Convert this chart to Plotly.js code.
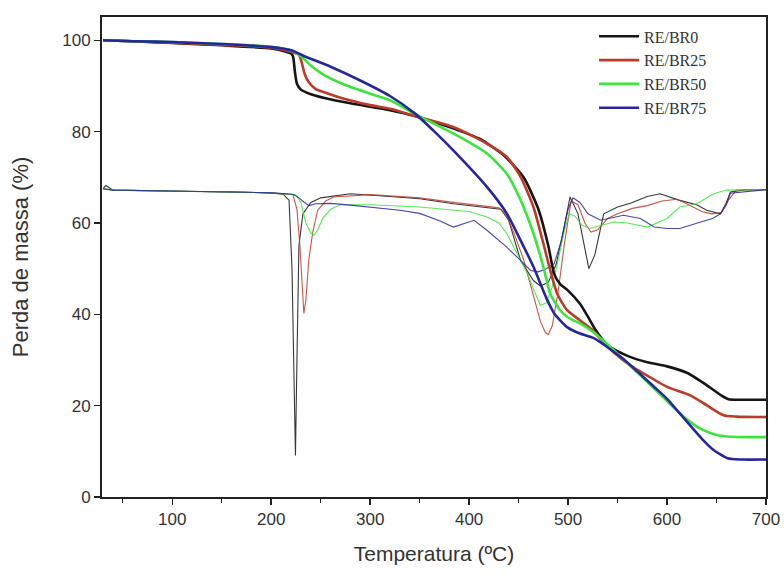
<!DOCTYPE html>
<html>
<head>
<meta charset="utf-8">
<script src="https://cdn.plot.ly/plotly-3.0.1.min.js"></script>
<style>html,body{margin:0;padding:0;background:#fff}#chart{width:784px;height:576px}</style>
</head>
<body>
<div id="chart"></div>
<script>
// ---- TGA curves (mass loss, %) ----
const seriesNames = ["RE/BR0", "RE/BR25", "RE/BR50", "RE/BR75"];
const seriesColors = ["#151515", "#bd3a28", "#3ce43c", "#27279c"];

const tgaBR0_x = [30, 60, 100, 150, 200, 215, 220, 222, 224, 226, 230, 240, 255, 280, 320, 344, 380, 410, 435, 455, 470, 480, 486, 492, 500, 512, 520, 528, 540, 560, 580, 600, 620, 640, 655, 662, 680, 700];
const tgaBR0_y = [100, 99.8, 99.4, 98.9, 98.2, 97.5, 97.1, 96.5, 93, 90.5, 89.2, 88.2, 87.3, 86.2, 84.7, 83.5, 81, 78.5, 74.8, 70, 63, 55, 48.8, 46.6, 45.2, 42.3, 39.5, 36.5, 33.2, 30.9, 29.5, 28.6, 27.2, 24.5, 22.2, 21.4, 21.3, 21.3];

const tgaBR25_x = [30, 60, 100, 150, 200, 220, 228, 231, 234, 238, 245, 255, 270, 300, 320, 344, 384, 418, 438, 452, 465, 475, 482, 489, 499, 512, 525, 532, 546, 565, 580, 600, 623, 640, 657, 670, 700];
const tgaBR25_y = [100, 99.8, 99.5, 99.0, 98.4, 97.5, 96.8, 95, 92.5, 90.8, 89.3, 88.5, 87.4, 85.8, 85.0, 83.5, 81, 77.4, 74.5, 70.1, 63.5, 55.5, 49.6, 44.5, 40.9, 38.7, 36.5, 34.8, 31.7, 28.5, 26.6, 24.1, 22.3, 20.1, 17.9, 17.6, 17.5];

const tgaBR50_x = [30, 60, 100, 150, 200, 220, 230, 240, 255, 275, 300, 320, 344, 384, 418, 438, 452, 465, 475, 482, 492, 500, 512, 525, 540, 560, 580, 600, 620, 635, 650, 665, 700];
const tgaBR50_y = [100, 99.8, 99.6, 99.2, 98.6, 97.8, 96.5, 94.5, 92.2, 90.2, 88.3, 86.9, 84, 79.6, 75.2, 70.8, 65, 57.7, 50.4, 44.5, 40.9, 39.3, 38, 36.2, 33.4, 29.3, 25.2, 21, 17, 14.8, 13.6, 13.2, 13.1];

const tgaBR75_x = [30, 60, 100, 150, 200, 220, 236, 260, 290, 320, 345, 365, 384, 418, 438, 452, 465, 479, 486, 499, 512, 526, 553, 570, 587, 600, 620, 635, 647, 661, 675, 700];
const tgaBR75_y = [100, 99.8, 99.6, 99.2, 98.5, 97.8, 96.3, 94.2, 91.2, 87.8, 84, 80, 75.9, 67.9, 62.1, 56.2, 50.4, 43.1, 40.2, 37.2, 35.8, 34.8, 30.7, 27.5, 24.1, 21.5, 16.5, 12.8, 10.3, 8.5, 8.2, 8.2];

// ---- DTG curves (drawn on same axis) ----
const dtgBR0_x = [30, 33, 40, 80, 120, 160, 200, 212, 218, 221, 223, 224.5, 226, 228, 232, 240, 250, 280, 320, 350, 384, 420, 432, 440, 452, 465, 472, 480, 488, 495, 502, 510, 516, 521, 527, 536, 550, 563, 580, 593, 612, 630, 640, 654, 660, 664, 680, 700];
const dtgBR0_y = [67.5, 68.2, 67.2, 67, 66.9, 66.8, 66.6, 66.3, 65, 50, 25, 9.1, 30, 55, 62, 64.5, 65.5, 66.4, 65.8, 65.3, 64.2, 63.4, 63, 60.6, 51.8, 47.4, 46.2, 47, 51, 58, 65.7, 62, 55, 50, 53, 62, 63.5, 64.3, 65.8, 66.4, 65, 64, 62.8, 62, 64.5, 66.8, 67.3, 67.3];

const dtgBR25_x = [30, 40, 100, 160, 200, 222, 226, 229, 231, 233, 235, 238, 242, 247, 255, 263, 300, 350, 384, 430, 437, 445, 455, 465, 472, 477, 480, 484, 490, 496, 503, 510, 517, 523, 530, 540, 550, 565, 580, 595, 610, 622, 635, 645, 655, 662, 670, 700];
const dtgBR25_y = [67.5, 67.2, 67, 66.8, 66.6, 66.2, 63, 55, 46, 40.2, 43, 52, 58, 62.8, 64.8, 65.7, 66.2, 65.5, 64.5, 63.3, 62, 58, 52, 44, 38.5, 36, 35.6, 37.5, 45, 55, 64.8, 64, 60, 58, 58.5, 61, 62, 63.2, 63.8, 64.8, 65.2, 64, 62.5, 62, 62.3, 65, 67.2, 67.3];

const dtgBR50_x = [30, 40, 100, 160, 200, 225, 230, 235, 240, 243, 247, 252, 260, 270, 300, 350, 400, 418, 430, 438, 448, 459, 466, 472, 478, 484, 490, 496, 501, 507, 514, 522, 530, 546, 560, 580, 600, 613, 630, 647, 660, 700];
const dtgBR50_y = [67.5, 67.2, 67, 66.8, 66.6, 66.2, 64.5, 60, 57.8, 57.3, 58.5, 61, 63, 64, 64, 63.5, 62.5, 61.3, 60, 57.7, 53.5, 48.9, 45, 42, 42.5, 46, 52, 58, 62, 61.5, 59.5, 58.8, 59.3, 60.2, 60, 59.1, 61, 63.5, 64.2, 66.4, 67.2, 67.3];

const dtgBR75_x = [30, 40, 100, 160, 200, 222, 228, 233, 238, 245, 260, 280, 330, 350, 370, 384, 395, 405, 418, 438, 452, 462, 470, 478, 486, 493, 500, 505, 512, 520, 533, 556, 573, 587, 600, 613, 634, 646, 654, 660, 664, 700];
const dtgBR75_y = [67.5, 67.2, 67, 66.8, 66.6, 66.3, 65.5, 64.6, 63.8, 64.2, 64.3, 63.9, 62.8, 62.1, 60.5, 59.1, 59.8, 60.6, 58.4, 54.7, 51.8, 49.6, 49.3, 50, 51.1, 56, 63, 65.5, 64.5, 62, 60.6, 61.7, 61, 59.1, 58.8, 58.8, 60.2, 61, 62, 64, 66.5, 67.3];

const xTickVals = [100, 200, 300, 400, 500, 600, 700];
const yTickVals = [0, 20, 40, 60, 80, 100];
const xTitle = "Temperatura (ºC)";
const yTitle = "Perda de massa (%)";

const tgaX = [tgaBR0_x, tgaBR25_x, tgaBR50_x, tgaBR75_x];
const tgaY = [tgaBR0_y, tgaBR25_y, tgaBR50_y, tgaBR75_y];
const dtgX = [dtgBR0_x, dtgBR25_x, dtgBR50_x, dtgBR75_x];
const dtgY = [dtgBR0_y, dtgBR25_y, dtgBR50_y, dtgBR75_y];

const traces = [];
for (let i = 0; i < 4; i++) {
  traces.push({
    x: dtgX[i], y: dtgY[i], type: "scatter", mode: "lines",
    line: {color: seriesColors[i], width: 1.1},
    opacity: 0.85, showlegend: false, hoverinfo: "skip"
  });
}
for (let i = 0; i < 4; i++) {
  traces.push({
    x: tgaX[i], y: tgaY[i], type: "scatter", mode: "lines", name: seriesNames[i],
    line: {color: seriesColors[i], width: 2.6, shape: "spline", smoothing: 0.6}
  });
}

const tickFont = {family: "Liberation Sans, Arial, sans-serif", size: 17, color: "#333"};
const layout = {
  width: 784, height: 576,
  margin: {l: 102, r: 18, t: 17, b: 79},
  paper_bgcolor: "#fff", plot_bgcolor: "#fff",
  showlegend: true,
  legend: {
    x: 0.741, y: 0.995, xanchor: "left", yanchor: "top",
    font: {family: "Liberation Serif, Times New Roman, serif", size: 16, color: "#333"},
    bgcolor: "rgba(0,0,0,0)", tracegroupgap: 0, itemwidth: 40
  },
  xaxis: {
    range: [29, 700], tickvals: xTickVals, ticks: "outside", ticklen: 6, tickwidth: 1.5,
    tickcolor: "#222", showline: true, linecolor: "#222", linewidth: 2, mirror: true,
    showgrid: false, zeroline: false, tickfont: tickFont,
    minor: {dtick: 50, tick0: 0, ticks: "outside", ticklen: 4, tickwidth: 1.2, tickcolor: "#222", showgrid: false},
    title: {text: xTitle, font: {family: "Liberation Sans, Arial, sans-serif", size: 21, color: "#333"}, standoff: 18}
  },
  yaxis: {
    range: [0, 105.1], tickvals: yTickVals, ticks: "outside", ticklen: 6, tickwidth: 1.5,
    tickcolor: "#222", showline: true, linecolor: "#222", linewidth: 2, mirror: true,
    showgrid: false, zeroline: false, tickfont: tickFont,
    title: {text: yTitle, font: {family: "Liberation Sans, Arial, sans-serif", size: 22, color: "#333"}, standoff: 28}
  }
};

Plotly.newPlot("chart", traces, layout, {staticPlot: true, displayModeBar: false});
</script>
</body>
</html>
